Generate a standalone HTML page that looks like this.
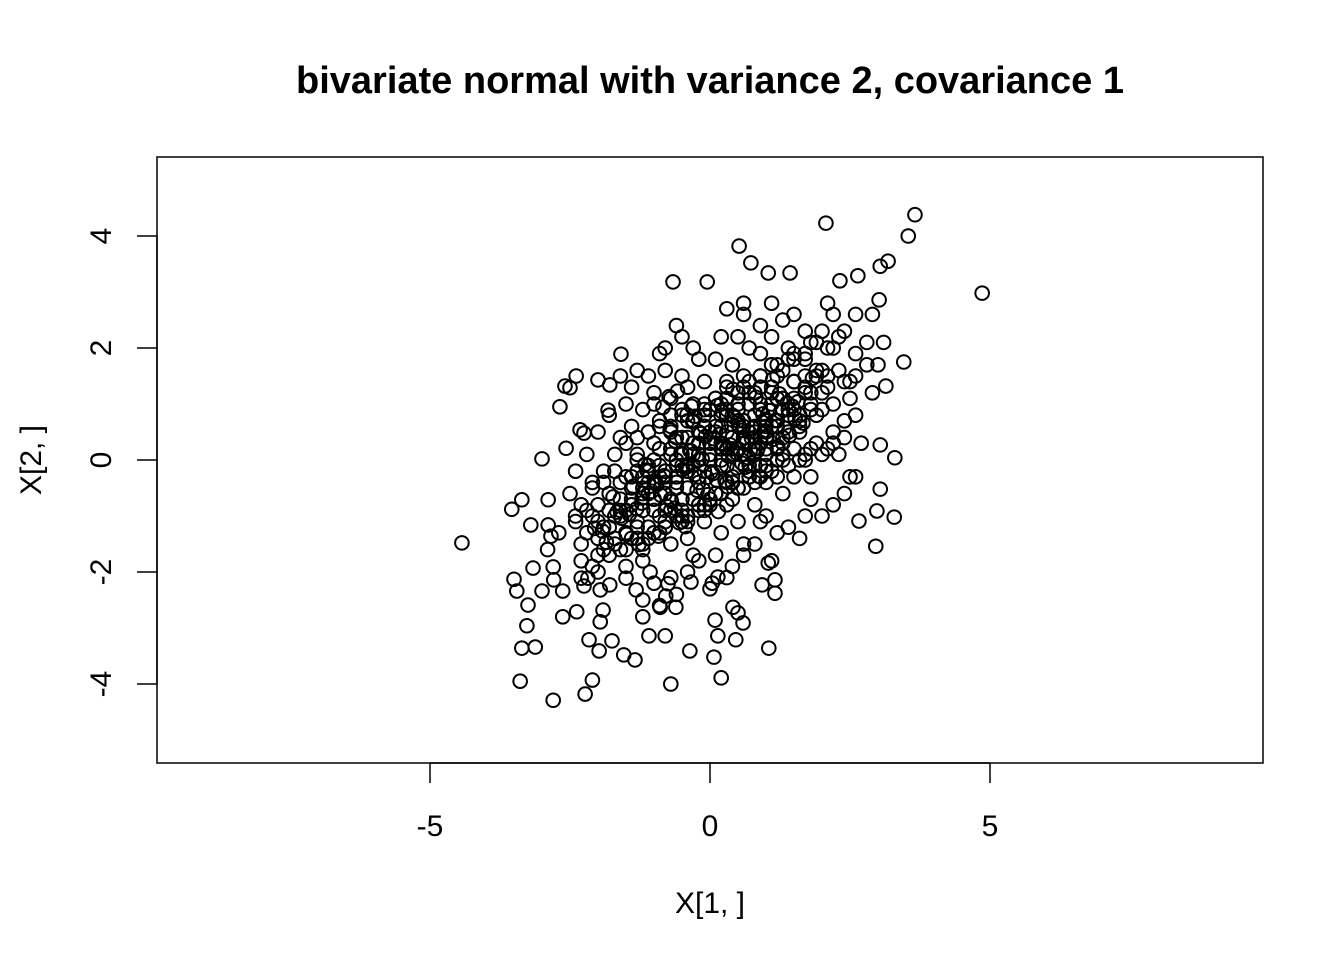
<!DOCTYPE html>
<html><head><meta charset="utf-8"><style>
html,body{margin:0;padding:0;background:#fff;}
svg{display:block;font-family:"Liberation Sans",Arial,sans-serif;}
</style></head><body>
<svg id="chart" width="1344" height="960" viewBox="0 0 1344 960">
<rect width="1344" height="960" fill="#fff"/>
<text x="710" y="93" text-anchor="middle" font-size="38" font-weight="bold">bivariate normal with variance 2, covariance 1</text>
<g id="points"></g>
<rect x="157" y="157" width="1106" height="606" fill="none" stroke="#000" stroke-width="1.5"/>
<g id="xaxis"></g>
<g id="yaxis"></g>
<text x="710" y="913" text-anchor="middle" font-size="30">X[1, ]</text>
<text transform="translate(41,460) rotate(-90)" text-anchor="middle" font-size="30">X[2, ]</text>
</svg>
<script>
const xTicks = [-5, 0, 5];
const yTicks = [-4, -2, 0, 2, 4];
const xs = [-4.43,4.86,3.66,3.54,2.07,0.52,0.73,-0.05,-0.66,1.04,1.43,2.32,2.64,3.04,3.18,3.02,3.46,3.14,3.3,3.04,3.29,2.98,2.96,3.04,2.66,
-2.8,-2.23,-3.39,-2.1,-0.7,0.2,0.07,-0.36,1.05,-1.34,-1.54,-1.98,-3.36,-3.12,-2.16,-1.75,-1.09,-0.8,0.14,0.46,0.59,-3.27,-3.25,-2.63,-2.38,-1.96,-1.91,-1.2,0.09,0.41,0.5,-0.89,-0.61,
-3.5,-3.45,-3.0,-3.16,-2.79,-2.8,-2.63,-2.25,-2.3,-2.18,-1.96,-1.79,-1.5,-1.32,-1.07,-0.79,-0.75,-0.34,0.04,0.14,0.93,1.16,1.16,1.04,
-3.54,-3.36,-3.2,-2.89,-2.89,-2.84,-3.0,-2.68,-2.59,-2.39,-2.5,-2.32,-2.25,-2.57,-2.0,-1.59,-1.79,-1.82,
0.3,0.6,0.6,1.1,1.5,1.3,2.1,2.2,2.6,2.9,2.4,2.0,1.7,0.9,0.5,0.2,-0.6,-0.5,-0.2,-0.9,-0.8,-1.3,-1.1,-1.6,-1.4,-1.0,-0.5,0.1,0.4,0.9,1.4,1.8,2.2,2.6,2.8,3.0,2.8,3.1,2.6,2.4,2.9,2.6,2.7,2.4,2.3,2.5,2.4,2.2,2.0,1.8,1.6,1.4,1.2,1.0,0.8,0.6,0.4,0.1,-0.2,-0.4,-0.7,-1.0,-1.2,-1.5,-1.7,-1.9,-2.1,-2.3,-2.5,-2.4,-2.1,-1.9,-1.7,-1.6,-1.4,-1.2,-1.0,-0.7,-0.4,-0.1,0.3,0.6,0.9,1.2,1.5,1.8,2.0,2.2,1.9,1.7,1.5,1.3,1.0,0.8,0.5,0.2,-0.1,-0.4,-0.7,-1.0,-1.3,-1.6,-1.8,-1.4,-1.1,-0.8,-0.5,-0.2,0.1,0.4,0.7,1.0,1.3,1.6,1.4,1.1,0.8,0.5,0.2,-0.1,-0.4,-0.7,-1.0,-1.3,-1.1,-0.8,-0.5,-0.2,0.1,0.4,0.7,1.0,0.6,0.3,0.0,-0.3,-0.6,-0.9,0.2,-0.2,0.5,-0.6,0.9,1.2,-1.5,-2.0,-2.3,-2.0,-1.2,-0.9,-0.6,0.0,0.3,0.6,1.1,-2.7,-2.4,-2.9,1.7,2.0,1.1,0.7,-0.3,-0.8,-1.8,-2.0,-2.2,-1.5,-0.3,0.9,1.8,2.1,1.5,0.3,-0.1,0.0,-0.4,0.6,1.3,1.7,2.6,2.5,
-1.4,-1.2,-0.9,-0.6,-0.3,0.0,0.3,0.6,0.9,1.2,-1.3,-1.0,-0.7,-0.4,-0.1,0.2,0.5,0.8,1.1,1.4,-1.1,-0.8,-0.5,-0.2,0.1,0.4,0.7,1.0,1.3,-0.9,-0.6,-0.3,0.0,0.3,0.6,0.9,1.2,1.5,-1.6,-1.3,-1.0,-0.7,-0.4,-0.1,0.2,0.5,0.8,-1.7,-1.4,-1.1,-0.8,-0.5,-0.2,0.1,0.4,-0.4,0.0,0.4,0.8,1.2,1.6,1.9,2.2,-2.0,-1.8,-1.5,-1.2,-0.9,0.3,0.7,1.1,1.4,1.7,
-2.2,-2.0,-1.8,-1.6,-1.4,-1.2,-1.0,-0.8,-0.6,-0.4,-0.2,0.0,0.2,0.4,0.6,0.8,1.0,1.2,1.4,1.6,1.8,2.0,
-2.1,-1.9,-1.7,-1.5,-1.3,-1.1,-0.9,-0.7,-0.5,-0.3,-0.1,0.1,0.3,0.5,0.7,0.9,1.1,1.3,1.5,1.7,1.9,2.1,
-1.8,-1.6,-1.4,-1.2,-1.0,-0.8,-0.6,-0.4,-0.2,0.0,0.2,0.4,0.6,0.8,1.0,1.2,1.4,1.6,1.8,2.0,2.2,2.4,
-2.3,-2.1,-1.9,-1.7,-1.5,-1.3,-1.1,-0.9,-0.7,-0.5,-0.3,-0.1,0.1,0.3,0.5,0.7,0.9,1.1,1.3,1.5,1.7,
-1.5,-1.3,-1.1,-0.9,-0.7,-0.5,-0.3,-0.1,0.1,0.3,0.5,0.7,0.9,1.1,1.3,1.5,1.7,1.9,2.1,2.3,
-1.2,-1.0,-0.8,-0.6,-0.4,-0.2,0.0,0.2,0.4,0.6,0.8,1.0,1.2,1.4,1.6,1.8,
-2.4,-2.2,-2.0,-1.8,-1.6,-1.4,-1.2,-1.0,-0.8,-0.6,-0.4,-0.2,0.0,0.2,0.4,0.6,0.8,1.0,
-0.9,-0.7,-0.5,-0.3,-0.1,0.1,0.3,0.5,0.7,0.9,1.1,1.3,1.5,1.7,1.9,2.1,2.3,2.5,
-0.6,-0.3,0.0,0.3,0.6,0.9,1.2,1.5,-0.8,-0.5,-0.2,0.1,0.4,0.7,1.0,1.3,
-1.37,-1.13,-0.88,-0.52,-0.27,0.07,0.33,0.58,0.86,1.17,1.42,-1.58,-1.22,-0.96,-0.63,-0.34,-0.06,0.24,0.51,0.79,1.06,1.33,
-0.73,-0.41,-0.17,0.13,0.38,0.66,0.94,1.24,1.52,1.83,-1.92,-1.66,-1.27,-0.98,-0.69,-0.43,-0.12,0.17,0.47,0.74,
0.05,0.36,0.68,0.97,1.26,1.57,-0.31,-0.58,-0.84,-1.16,-1.44,-1.73,-2.06,0.22,0.53,0.82,1.13,-0.23,-0.49,-0.77,
-1.04,-0.36,0.12,0.44,0.72,1.02,-0.14,-0.62,-1.31,0.91,1.38,1.66,-1.85,-0.95,-0.04,0.27,0.57,0.87,-0.44,-0.71,
0.15,-0.27,0.63,1.21,-0.82,-1.49,0.41,0.99,1.47,-0.08,-1.21,0.32,0.76,1.12,-0.55,-0.33,0.02,0.48,-0.92,0.84];
const ys = [-1.48,2.98,4.38,4.0,4.23,3.82,3.52,3.18,3.18,3.34,3.34,3.2,3.29,3.46,3.55,2.86,1.75,1.32,0.04,0.27,-1.02,-0.91,-1.54,-0.52,-1.09,
-4.29,-4.18,-3.95,-3.93,-4.0,-3.89,-3.52,-3.41,-3.36,-3.57,-3.48,-3.41,-3.36,-3.34,-3.21,-3.23,-3.14,-3.14,-3.14,-3.21,-2.91,-2.96,-2.59,-2.8,-2.71,-2.89,-2.68,-2.8,-2.86,-2.63,-2.73,-2.63,-2.63,
-2.13,-2.34,-2.34,-1.93,-2.14,-1.91,-2.34,-2.25,-2.11,-2.11,-2.32,-2.23,-2.11,-2.32,-2.0,-2.43,-2.21,-2.18,-2.2,-2.09,-2.23,-2.14,-2.38,-1.84,
-0.88,-0.71,-1.16,-1.16,-0.71,-1.36,0.02,0.95,1.32,1.5,1.29,0.54,0.48,0.21,1.43,1.89,1.34,0.89,
2.7,2.6,2.8,2.8,2.6,2.5,2.8,2.6,2.6,2.6,2.3,2.3,2.3,2.4,2.2,2.2,2.4,2.2,1.8,1.9,2.0,1.6,1.5,1.5,1.3,1.2,1.5,1.8,1.7,1.9,2.0,2.1,2.0,1.9,1.7,1.7,2.1,2.1,1.5,1.4,1.2,0.8,0.3,0.7,0.1,-0.3,-0.6,-0.8,-1.0,-0.7,-1.4,-1.2,-1.3,-1.0,-1.5,-1.7,-1.9,-1.7,-1.8,-2.0,-2.1,-2.2,-1.8,-1.6,-1.4,-1.2,-1.0,-0.8,-0.6,-0.2,-0.4,-0.2,0.1,0.4,0.6,0.9,1.0,1.1,1.3,1.4,1.4,1.5,1.3,1.5,1.4,1.2,0.9,0.5,0.3,0.0,-0.3,-0.6,-0.4,-0.8,-1.1,-1.3,-1.1,-1.4,-1.5,-1.3,-1.1,-0.9,-0.6,-0.3,-0.6,-0.9,-0.7,-0.4,-0.6,-0.3,-0.1,0.2,0.4,0.6,0.9,1.0,0.8,0.9,1.0,0.8,0.7,0.5,0.3,0.1,-0.2,-0.3,-0.1,0.1,0.3,0.4,0.5,0.6,0.1,-0.1,0.0,0.3,0.0,-0.1,0.6,0.5,-0.5,-0.5,-0.3,0.0,-1.9,-1.7,-1.5,-2.0,-2.5,-2.6,-2.4,-2.3,-2.1,-1.5,-1.8,-1.3,-1.1,-1.6,1.8,1.6,2.2,2.0,2.0,1.6,0.8,0.5,0.1,1.0,-1.7,-1.1,-0.3,0.2,1.1,-0.8,-0.9,0.5,-0.2,0.7,0.9,-1.0,-0.3,1.1,
-0.8,-0.5,-0.3,-0.1,0.1,0.3,0.5,0.7,0.9,1.1,-1.2,-0.9,-0.7,-0.5,-0.2,0.0,0.2,0.4,0.6,0.8,-1.4,-1.2,-1.0,-0.8,-0.6,-0.4,-0.2,0.1,0.3,0.2,0.4,0.7,0.9,1.1,1.3,1.5,1.7,1.9,-0.4,-0.2,0.0,0.2,0.4,0.6,0.8,1.0,1.2,-1.0,-0.7,-0.4,-0.2,0.1,0.3,0.6,0.8,-1.0,-0.7,-0.4,-0.1,0.2,0.5,0.8,1.0,-1.4,-1.2,-0.9,-1.6,-1.3,0.9,1.2,1.7,1.8,1.5,
-1.3,-1.1,-0.9,-1.0,-0.8,-0.6,-0.7,-0.4,-0.3,-0.1,0.0,0.1,0.3,0.2,0.4,0.6,0.5,0.7,0.9,0.8,1.0,1.2,
-0.5,-0.4,-0.2,-0.3,0.0,-0.1,0.2,0.1,0.4,0.3,0.6,0.5,0.8,0.7,1.0,0.9,1.2,1.1,1.4,1.3,1.6,1.5,
-1.7,-1.6,-1.4,-1.5,-1.3,-1.2,-1.0,-1.1,-0.9,-0.8,-0.6,-0.7,-0.5,-0.4,-0.2,-0.3,-0.1,0.0,0.2,0.1,0.3,0.4,
-1.8,-1.9,-1.6,-1.5,-1.3,-1.4,-1.2,-1.0,-0.9,-1.1,-0.7,-0.8,-0.6,-0.4,-0.5,-0.3,-0.1,-0.2,0.0,0.2,0.1,
0.3,0.4,0.5,0.7,0.6,0.8,1.0,0.9,1.1,1.3,1.2,1.4,1.5,1.7,1.6,1.8,1.9,2.1,2.0,2.2,
-0.9,-0.7,-0.6,-0.4,-0.2,-0.3,0.0,-0.1,0.1,0.3,0.2,0.4,0.6,0.5,0.7,0.9,
-1.0,-0.9,-0.8,-0.6,-0.7,-0.5,-0.3,-0.4,-0.2,0.0,-0.1,0.1,0.3,0.2,0.4,0.6,0.5,0.7,
0.6,0.8,0.9,0.7,1.0,1.1,0.8,0.9,1.2,1.0,1.3,1.1,1.4,1.2,1.5,1.3,1.6,1.4,
-0.3,-0.1,0.1,0.2,0.4,0.6,0.7,0.9,-1.1,-0.9,-0.8,-0.6,-0.4,-0.3,-0.1,0.1,
-0.47,-0.18,-0.63,0.12,-0.26,0.38,0.07,0.53,0.22,0.71,0.44,-1.04,-0.77,-0.42,-0.86,0.16,-0.31,0.28,0.63,0.09,0.88,0.57,
1.13,0.81,0.47,0.97,0.64,0.33,0.82,1.18,0.74,1.46,-1.27,-0.93,-1.51,-0.38,-0.74,-0.13,-0.53,0.46,0.13,0.39,
-0.24,0.27,0.04,0.52,0.86,1.04,0.68,1.23,0.94,-0.08,-0.97,-0.66,-1.22,0.86,0.58,1.12,0.37,-0.54,-0.17,-0.83,
-0.56,0.17,-0.36,0.76,0.18,0.43,0.02,0.34,-0.87,0.31,1.02,0.66,-1.47,-0.44,-0.62,-0.37,-0.06,-0.29,-1.19,0.54,
-0.92,0.78,-0.13,0.24,-0.28,-1.33,1.26,0.73,0.96,0.42,-0.68,-0.48,0.57,1.44,-1.12,0.96,-0.21,-0.14,-1.36,0.16];

const X0 = 710, Y0 = 460, S = 56;
function sx(v){ return X0 + v * S; }
function sy(v){ return Y0 - v * S; }
const NS = "http://www.w3.org/2000/svg";
const pg = document.getElementById('points');
const n = Math.min(xs.length, ys.length);
for (let i = 0; i < n; i++) {
  const c = document.createElementNS(NS, 'circle');
  c.setAttribute('cx', sx(xs[i]));
  c.setAttribute('cy', sy(ys[i]));
  c.setAttribute('r', 6.8);
  c.setAttribute('fill', 'none');
  c.setAttribute('stroke', '#000');
  c.setAttribute('stroke-width', 2.0);
  
  
  pg.appendChild(c);
}
const xa = document.getElementById('xaxis');
const xl = document.createElementNS(NS, 'line');
xl.setAttribute('x1', sx(xTicks[0])); xl.setAttribute('x2', sx(xTicks[xTicks.length-1]));
xl.setAttribute('y1', 763); xl.setAttribute('y2', 763);
xl.setAttribute('stroke', '#000'); xl.setAttribute('stroke-width', 1.5);


xa.appendChild(xl);
xTicks.forEach(t => {
  const l = document.createElementNS(NS, 'line');
  l.setAttribute('x1', sx(t)); l.setAttribute('x2', sx(t));
  l.setAttribute('y1', 763); l.setAttribute('y2', 783);
  l.setAttribute('stroke', '#000'); l.setAttribute('stroke-width', 1.5);
  
  
  xa.appendChild(l);
  const tx = document.createElementNS(NS, 'text');
  tx.setAttribute('x', sx(t)); tx.setAttribute('y', 836);
  tx.setAttribute('text-anchor', 'middle'); tx.setAttribute('font-size', 30);
  tx.textContent = t;
  
  
  xa.appendChild(tx);
});
const ya = document.getElementById('yaxis');
const yl = document.createElementNS(NS, 'line');
yl.setAttribute('x1', 157); yl.setAttribute('x2', 157);
yl.setAttribute('y1', sy(yTicks[0])); yl.setAttribute('y2', sy(yTicks[yTicks.length-1]));
yl.setAttribute('stroke', '#000'); yl.setAttribute('stroke-width', 1.5);


ya.appendChild(yl);
yTicks.forEach(t => {
  const l = document.createElementNS(NS, 'line');
  l.setAttribute('x1', 137); l.setAttribute('x2', 157);
  l.setAttribute('y1', sy(t)); l.setAttribute('y2', sy(t));
  l.setAttribute('stroke', '#000'); l.setAttribute('stroke-width', 1.5);
  
  
  ya.appendChild(l);
  const tx = document.createElementNS(NS, 'text');
  tx.setAttribute('transform', 'translate(111,' + sy(t) + ') rotate(-90)');
  tx.setAttribute('text-anchor', 'middle'); tx.setAttribute('font-size', 30);
  tx.textContent = t;
  
  
  ya.appendChild(tx);
});
</script>
</body></html>
